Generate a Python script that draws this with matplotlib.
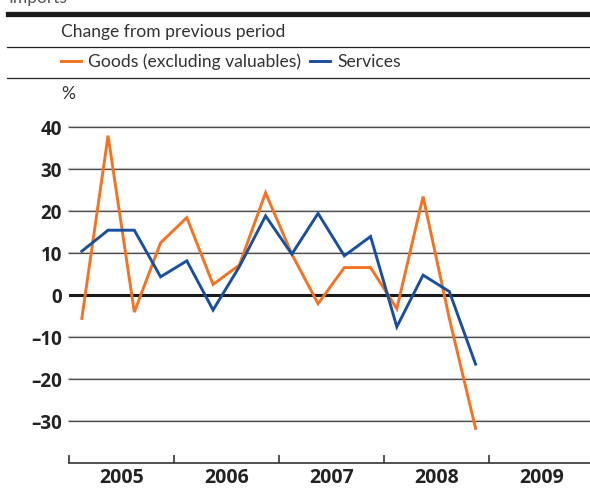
import matplotlib.pyplot as plt
from matplotlib.lines import Line2D

# quarterly % change, 2005Q1 - 2008Q4
years = [2005, 2006, 2007, 2008, 2009]
quarters = [y + (q + 0.5) / 4 for y in years[:4] for q in range(4)]
goods = [-5.5, 38, -4, 12.5, 18.5, 2.6, 7.2, 24.4,
         9.8, -2, 6.6, 6.6, -3.2, 23.5, -5.5, -31.7]
services = [10.5, 15.5, 15.5, 4.4, 8.2, -3.5, 6.8, 18.9,
            9.8, 19.5, 9.4, 14, -7.5, 4.8, 0.9, -16.4]
yticks = [40, 30, 20, 10, 0, -10, -20, -30]

ORANGE = '#f47321'
BLUE = '#1a4f9e'
W, H = 590, 488

plt.rcParams['font.family'] = ['Open Sans', 'DejaVu Sans']
HEAD_FONT = ['Lato', 'DejaVu Sans']


def fx(px):
    return px / W


def fy(py):
    return 1 - py / H


def main():
    fig = plt.figure(figsize=(W / 100, H / 100), dpi=100)

    # axes: x from 2005 at 68.7px, 105px per year; y -40 at 463.3px, 40 at 127.3px
    left, right = 68.7, 68.7 + 5 * 105
    top, bottom = 127.3, 463.3
    ax = fig.add_axes([fx(left), fy(bottom), (right - left) / W, (bottom - top) / H])
    ax.set_xlim(2005, 2010)
    ax.set_ylim(-40, 40)

    for v in yticks:
        if v == 0:
            continue
        ax.axhline(v, color='#cfcfcf', lw=1.6, zorder=1, clip_on=False)
        ax.axhline(v, color='#4d4d4d', lw=0.9, zorder=1.1, clip_on=False)
    ax.axhline(0, color='#1a1a1a', lw=2.2, zorder=3)

    ax.plot(quarters, goods, color=ORANGE, lw=2.1, zorder=4,
            label='Goods (excluding valuables)', solid_joinstyle='miter')
    ax.plot(quarters, services, color=BLUE, lw=2.1, zorder=5,
            label='Services', solid_joinstyle='miter')

    for s in ['top', 'right', 'left']:
        ax.spines[s].set_visible(False)
    ax.spines['bottom'].set_color('#333333')
    ax.spines['bottom'].set_linewidth(1.2)

    ax.set_yticks(yticks)
    ax.set_yticklabels([str(v).replace('-', '\u2013') for v in yticks])
    ax.tick_params(axis='y', length=0, pad=5, labelsize=13.5, labelcolor='#222222')
    for t in ax.get_yticklabels():
        t.set_fontweight('bold')

    ax.set_xticks(years + [2010])
    ax.set_xticklabels([])
    ax.tick_params(axis='x', which='major', direction='in', length=6,
                   width=1.2, color='#333333')
    ax.set_xticks([y + 0.5 for y in years], minor=True)
    ax.set_xticklabels([str(y) for y in years], minor=True)
    ax.tick_params(axis='x', which='minor', length=0, pad=3.5, labelsize=14,
                   labelcolor='#222222')
    for t in ax.get_xticklabels(minor=True):
        t.set_fontweight('bold')

    # header
    fig.text(fx(8), fy(-2), 'Imports', fontsize=12.5, color='#555555', va='center',
             family=HEAD_FONT)
    fig.add_artist(Line2D([fx(8), 1], [fy(14.2)] * 2, color='#1a1a1a', lw=3.8))
    fig.text(fx(61), fy(31.5), 'Change from previous period', fontsize=12.6,
             color='#333333', va='center', family=HEAD_FONT)
    fig.add_artist(Line2D([fx(7), 1], [fy(46.7)] * 2, color='#222222', lw=0.9))
    fig.legend(loc='center left', bbox_to_anchor=(fx(61), fy(62)), ncol=2,
               frameon=False, prop={'family': HEAD_FONT, 'size': 12.6},
               handlelength=1.15, handletextpad=0.4, borderpad=0,
               borderaxespad=0, columnspacing=0.5, labelcolor='#333333')
    fig.add_artist(Line2D([fx(7), 1], [fy(78.3)] * 2, color='#222222', lw=0.9))
    fig.text(fx(61), fy(94), '%', fontsize=12.6, color='#333333', va='center',
             family=HEAD_FONT)

    fig.savefig('out.png', dpi=100)


if __name__ == "__main__":
    main()
